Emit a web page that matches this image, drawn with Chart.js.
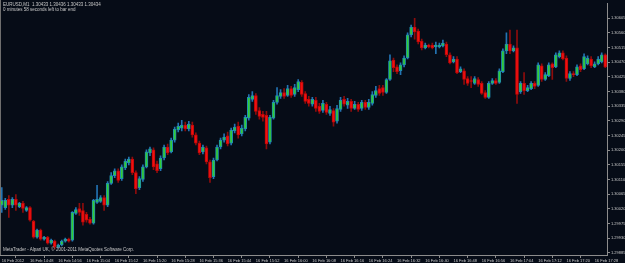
<!DOCTYPE html>
<html>
<head>
<meta charset="utf-8">
<script src="https://cdn.jsdelivr.net/npm/chart.js@4.4.0/dist/chart.umd.min.js"></script>
<style>
  body { margin: 0; background: #060c17; }
  #wrap { position: relative; width: 625px; height: 263px; overflow: hidden; background: #060c17; }
  #wrap canvas { position: absolute; left: 0; top: 0; }
  .txt { position: absolute; color: #c8c8c8; font: 4.5px "Liberation Sans", sans-serif; white-space: pre; }
  #frame { position: absolute; left: 0; top: 0; width: 1px; height: 255px; background: #6e6e6e; }
</style>
</head>
<body>
<div id="wrap">
  <canvas id="chart" width="625" height="263"></canvas>
  <div id="frame"></div>
  <div class="txt" style="left:3px;top:2px">EURUSD,M1  1.30433 1.30436 1.30433 1.30434</div>
  <div class="txt" style="left:3px;top:7px">0 minutes 58 seconds left to bar end</div>
  <div class="txt" style="left:3px;top:247px">MetaTrader - Alpari UK, © 2001-2011 MetaQuotes Software Corp.</div>
</div>
<script>
// EURUSD M1 candles, 16 Feb 2012 14:40 .. 17:31

const open = [
  1.30031, 1.30024, 1.30049, 1.30031, 1.30049, 1.30027, 1.30037, 1.30015, 1.30024, 1.29982,
  1.29933, 1.29955, 1.29927, 1.29933, 1.29915, 1.29921, 1.29903, 1.29909, 1.29921, 1.29927,
  1.29924, 1.30006, 1.30021, 1.30015, 1.30003, 1.29988, 1.29976, 1.30040, 1.30043, 1.30055,
  1.30031, 1.30098, 1.30122, 1.30137, 1.30113, 1.30146, 1.30161, 1.30173, 1.30131, 1.30085,
  1.30110, 1.30149, 1.30192, 1.30201, 1.30158, 1.30143, 1.30176, 1.30210, 1.30195, 1.30231,
  1.30262, 1.30268, 1.30277, 1.30265, 1.30277, 1.30247, 1.30222, 1.30195, 1.30207, 1.30164,
  1.30119, 1.30170, 1.30210, 1.30231, 1.30244, 1.30222, 1.30259, 1.30274, 1.30250, 1.30265,
  1.30298, 1.30356, 1.30368, 1.30322, 1.30310, 1.30307, 1.30225, 1.30298, 1.30347, 1.30365,
  1.30377, 1.30368, 1.30389, 1.30371, 1.30386, 1.30408, 1.30374, 1.30356, 1.30341, 1.30353,
  1.30335, 1.30322, 1.30341, 1.30313, 1.30322, 1.30289, 1.30325, 1.30356, 1.30338, 1.30350,
  1.30328, 1.30341, 1.30328, 1.30347, 1.30331, 1.30344, 1.30368, 1.30389, 1.30392, 1.30377,
  1.30417, 1.30477, 1.30456, 1.30444, 1.30462, 1.30483, 1.30554, 1.30578, 1.30566, 1.30535,
  1.30514, 1.30523, 1.30523, 1.30517, 1.30517, 1.30520, 1.30526, 1.30493, 1.30471, 1.30480,
  1.30441, 1.30444, 1.30420, 1.30414, 1.30405, 1.30417, 1.30405, 1.30377, 1.30362, 1.30405,
  1.30414, 1.30408, 1.30441, 1.30505, 1.30526, 1.30505, 1.30514, 1.30380, 1.30405, 1.30383,
  1.30389, 1.30405, 1.30399, 1.30459, 1.30417, 1.30429, 1.30465, 1.30456, 1.30487, 1.30499,
  1.30483, 1.30420, 1.30435, 1.30432, 1.30459, 1.30450, 1.30465, 1.30480, 1.30456, 1.30465,
  1.30471, 1.30493
];
const high = [
  1.30085, 1.30052, 1.30061, 1.30055, 1.30064, 1.30040, 1.30043, 1.30027, 1.30027, 1.29985,
  1.29958, 1.29958, 1.29936, 1.29936, 1.29927, 1.29924, 1.29912, 1.29924, 1.29930, 1.29930,
  1.30012, 1.30024, 1.30037, 1.30037, 1.30009, 1.29994, 1.30049, 1.30092, 1.30061, 1.30061,
  1.30104, 1.30131, 1.30143, 1.30143, 1.30155, 1.30173, 1.30179, 1.30179, 1.30137, 1.30119,
  1.30155, 1.30201, 1.30210, 1.30207, 1.30167, 1.30183, 1.30216, 1.30219, 1.30237, 1.30271,
  1.30283, 1.30292, 1.30286, 1.30289, 1.30286, 1.30253, 1.30228, 1.30216, 1.30213, 1.30170,
  1.30176, 1.30216, 1.30237, 1.30250, 1.30256, 1.30268, 1.30280, 1.30286, 1.30277, 1.30307,
  1.30371, 1.30380, 1.30374, 1.30331, 1.30319, 1.30319, 1.30307, 1.30353, 1.30392, 1.30386,
  1.30389, 1.30399, 1.30396, 1.30402, 1.30417, 1.30414, 1.30380, 1.30365, 1.30362, 1.30362,
  1.30344, 1.30353, 1.30347, 1.30335, 1.30328, 1.30338, 1.30362, 1.30365, 1.30359, 1.30356,
  1.30350, 1.30347, 1.30353, 1.30353, 1.30356, 1.30380, 1.30396, 1.30399, 1.30399, 1.30420,
  1.30493, 1.30483, 1.30462, 1.30468, 1.30490, 1.30560, 1.30584, 1.30605, 1.30572, 1.30541,
  1.30529, 1.30526, 1.30529, 1.30532, 1.30529, 1.30538, 1.30532, 1.30499, 1.30487, 1.30487,
  1.30456, 1.30450, 1.30426, 1.30426, 1.30426, 1.30423, 1.30411, 1.30383, 1.30411, 1.30420,
  1.30420, 1.30450, 1.30511, 1.30560, 1.30569, 1.30520, 1.30569, 1.30411, 1.30438, 1.30399,
  1.30411, 1.30411, 1.30468, 1.30465, 1.30438, 1.30468, 1.30468, 1.30499, 1.30505, 1.30505,
  1.30490, 1.30441, 1.30441, 1.30462, 1.30465, 1.30496, 1.30490, 1.30487, 1.30471, 1.30487,
  1.30499, 1.30496
];
const low = [
  1.30009, 1.30018, 1.29994, 1.30024, 1.30015, 1.30024, 1.30009, 1.30012, 1.29982, 1.29930,
  1.29930, 1.29924, 1.29924, 1.29912, 1.29912, 1.29897, 1.29900, 1.29906, 1.29918, 1.29918,
  1.29921, 1.30003, 1.30000, 1.29970, 1.29979, 1.29973, 1.29973, 1.30037, 1.30040, 1.30015,
  1.30027, 1.30095, 1.30116, 1.30101, 1.30107, 1.30140, 1.30155, 1.30125, 1.30067, 1.30079,
  1.30104, 1.30146, 1.30183, 1.30140, 1.30131, 1.30137, 1.30170, 1.30186, 1.30192, 1.30225,
  1.30256, 1.30259, 1.30259, 1.30259, 1.30240, 1.30216, 1.30186, 1.30189, 1.30158, 1.30101,
  1.30113, 1.30167, 1.30204, 1.30225, 1.30213, 1.30216, 1.30253, 1.30237, 1.30244, 1.30259,
  1.30292, 1.30350, 1.30310, 1.30295, 1.30289, 1.30204, 1.30219, 1.30295, 1.30341, 1.30359,
  1.30359, 1.30365, 1.30362, 1.30365, 1.30380, 1.30365, 1.30344, 1.30335, 1.30335, 1.30319,
  1.30313, 1.30316, 1.30310, 1.30307, 1.30274, 1.30283, 1.30319, 1.30335, 1.30328, 1.30319,
  1.30325, 1.30319, 1.30322, 1.30325, 1.30325, 1.30338, 1.30362, 1.30368, 1.30368, 1.30374,
  1.30414, 1.30441, 1.30435, 1.30432, 1.30456, 1.30480, 1.30548, 1.30541, 1.30526, 1.30508,
  1.30511, 1.30514, 1.30511, 1.30496, 1.30514, 1.30517, 1.30487, 1.30465, 1.30468, 1.30435,
  1.30438, 1.30402, 1.30399, 1.30392, 1.30402, 1.30396, 1.30371, 1.30359, 1.30359, 1.30402,
  1.30402, 1.30405, 1.30438, 1.30496, 1.30496, 1.30502, 1.30344, 1.30374, 1.30371, 1.30380,
  1.30386, 1.30389, 1.30396, 1.30411, 1.30414, 1.30426, 1.30417, 1.30453, 1.30483, 1.30477,
  1.30411, 1.30414, 1.30426, 1.30429, 1.30441, 1.30447, 1.30462, 1.30453, 1.30453, 1.30462,
  1.30468, 1.30453
];
const close = [
  1.30046, 1.30046, 1.30031, 1.30049, 1.30031, 1.30037, 1.30021, 1.30024, 1.29985, 1.29933,
  1.29955, 1.29927, 1.29933, 1.29915, 1.29924, 1.29903, 1.29909, 1.29921, 1.29927, 1.29921,
  1.30009, 1.30018, 1.30009, 1.29979, 1.29985, 1.29976, 1.30046, 1.30049, 1.30055, 1.30031,
  1.30098, 1.30122, 1.30137, 1.30107, 1.30149, 1.30167, 1.30173, 1.30131, 1.30082, 1.30113,
  1.30149, 1.30195, 1.30204, 1.30149, 1.30137, 1.30176, 1.30210, 1.30192, 1.30231, 1.30265,
  1.30274, 1.30277, 1.30265, 1.30280, 1.30247, 1.30222, 1.30192, 1.30210, 1.30164, 1.30116,
  1.30170, 1.30210, 1.30231, 1.30240, 1.30219, 1.30262, 1.30271, 1.30247, 1.30268, 1.30301,
  1.30362, 1.30368, 1.30319, 1.30304, 1.30301, 1.30219, 1.30301, 1.30347, 1.30368, 1.30377,
  1.30365, 1.30389, 1.30368, 1.30392, 1.30411, 1.30371, 1.30350, 1.30344, 1.30356, 1.30328,
  1.30319, 1.30344, 1.30316, 1.30325, 1.30286, 1.30328, 1.30353, 1.30341, 1.30350, 1.30328,
  1.30341, 1.30325, 1.30347, 1.30331, 1.30347, 1.30371, 1.30383, 1.30374, 1.30377, 1.30417,
  1.30474, 1.30453, 1.30441, 1.30462, 1.30483, 1.30554, 1.30578, 1.30563, 1.30532, 1.30514,
  1.30523, 1.30517, 1.30514, 1.30523, 1.30523, 1.30529, 1.30493, 1.30468, 1.30480, 1.30438,
  1.30450, 1.30417, 1.30405, 1.30411, 1.30420, 1.30402, 1.30374, 1.30362, 1.30405, 1.30414,
  1.30405, 1.30444, 1.30505, 1.30526, 1.30505, 1.30514, 1.30371, 1.30405, 1.30383, 1.30392,
  1.30405, 1.30396, 1.30462, 1.30417, 1.30432, 1.30462, 1.30453, 1.30493, 1.30499, 1.30480,
  1.30420, 1.30435, 1.30432, 1.30456, 1.30447, 1.30487, 1.30483, 1.30459, 1.30465, 1.30480,
  1.30493, 1.30456
];

// price labels on the right axis
const yTicks = [
  1.30605, 1.30560, 1.30515, 1.30470, 1.30425, 1.30380, 1.30335, 1.30290, 1.30245,
  1.30200, 1.30155, 1.30110, 1.30065, 1.30020, 1.29975, 1.29930, 1.29885
];
const Y_MIN = 1.298784, Y_MAX = 1.306506;

// one-minute bar times, first bar 14:40
const times = [];
for (let i = 0; i < open.length; i++) {
  const m = 14 * 60 + 40 + i;
  times.push(String(Math.floor(m / 60)).padStart(2, '0') + ':' + String(m % 60).padStart(2, '0'));
}

const BULL_FILL = '#33cc33', BULL_EDGE = '#1f8db3', BULL_WICK = '#2373b3';
const BEAR_FILL = '#f01010', BEAR_EDGE = '#c00808', BEAR_WICK = '#8e0c0c';
const AXIS = '#8c8c8c', TEXT = '#c8c8c8';
const FONT = { family: 'Liberation Sans', size: 4 };

const up = close.map((c, i) => c >= open[i]);

new Chart(document.getElementById('chart'), {
  type: 'bar',
  data: {
    labels: times,
    datasets: [
      {
        label: 'body',
        data: open.map((o, i) => [o, close[i]]),
        backgroundColor: up.map(u => u ? BULL_FILL : BEAR_FILL),
        borderColor: up.map(u => u ? BULL_EDGE : BEAR_EDGE),
        borderWidth: 1,
        borderSkipped: false,
        barThickness: 3,
        minBarLength: 1,
        grouped: false,
        order: 0
      },
      {
        label: 'wick',
        data: low.map((l, i) => [l, high[i]]),
        backgroundColor: up.map(u => u ? BULL_WICK : BEAR_WICK),
        barThickness: 1,
        grouped: false,
        order: 1
      }
    ]
  },
  options: {
    responsive: false,
    animation: false,
    layout: { padding: 0 },
    plugins: { legend: { display: false }, tooltip: { enabled: false } },
    scales: {
      x: {
        offset: true,
        grid: { drawOnChartArea: false, color: AXIS, tickLength: 3, offset: true },
        border: { display: true, color: AXIS },
        ticks: {
          autoSkip: false, maxRotation: 0, align: 'start', padding: 0,
          color: TEXT, font: FONT,
          callback(v) { return v === 0 ? '16 Feb 2012' : '16 Feb ' + this.getLabelForValue(v); }
        },
        afterBuildTicks(s) { s.ticks = s.ticks.filter(t => t.value % 8 === 0); },
        afterFit(s) { s.height = 8; }
      },
      y: {
        position: 'right',
        min: Y_MIN,
        max: Y_MAX,
        grid: { drawOnChartArea: false, color: AXIS, tickLength: 3 },
        border: { display: true, color: AXIS },
        ticks: { color: TEXT, font: FONT, padding: 1, callback: v => v.toFixed(5) },
        afterBuildTicks(s) { s.ticks = yTicks.map(v => ({ value: v })); },
        afterFit(s) { s.width = 18; }
      }
    }
  }
});
</script>
</body>
</html>
